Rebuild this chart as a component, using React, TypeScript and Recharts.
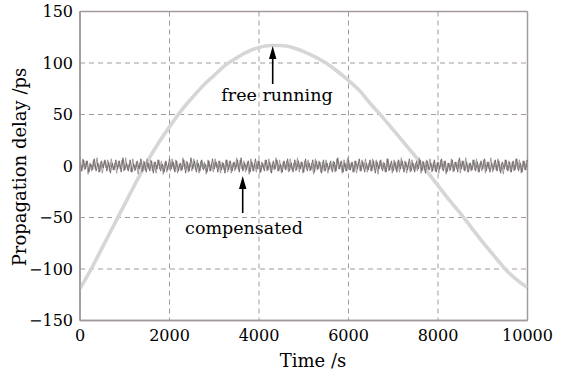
import React from "react";
import { LineChart, Line, XAxis, YAxis, CartesianGrid, ReferenceLine } from "recharts";

const FREE_TIME = [
  0, 250, 500, 750, 1000, 1250, 1500, 1750, 2000, 2250, 2500, 2750, 3000, 3250,
  3500, 3750, 4000, 4250, 4500, 4750, 5000, 5250, 5500, 5750, 6000, 6250, 6500,
  6750, 7000, 7250, 7500, 7750, 8000, 8250, 8500, 8750, 9000, 9250, 9500, 9750,
  10000,
];
const FREE_DELAY = [
  -119, -100, -79, -58, -37, -16, 4, 22, 38, 53, 66, 78, 88, 98, 105, 111, 115,
  117, 117, 115, 111, 106, 100, 92, 83, 73, 60, 48, 35, 22, 9, -5, -19, -33, -46,
  -60, -74, -87, -100, -110, -118,
];

// Compensated delay, two interleaved sample sets (every 40 s, offset by 20 s)
const COMP_STEP = 40;
const COMP_OFFSET_B = 20;
const COMP_DELAY_A = [
  4, -5, 6, -3, 5, -6, 2, -4, 7, -5, 3, -6, 5, -2, 6, -5, 4, -7, 3, -4,
  6, -3, 5, -6, 8, -4, 3, -5, 6, -6, 2, -4, 5, -3, 7, -5, 4, -6, 3, -5,
  5, -7, 4, -3, 6, -5, 2, -6, 5, -4, 7, -3, 4, -6, 5, -5, 3, -4, 6, -7,
  4, -5, 8, -3, 5, -6, 3, -5, 6, -4, 2, -6, 5, -5, 7, -3, 4, -6, 5, -4,
  3, -7, 6, -4, 5, -5, 4, -3, 6, -6, 8, -5, 3, -4, 5, -6, 4, -5, 7, -3,
  5, -6, 3, -5, 6, -4, 4, -7, 5, -3, 6, -5, 2, -6, 5, -4, 7, -5, 3, -6,
  6, -4, 5, -3, 4, -6, 7, -5, 3, -4, 6, -6, 5, -3, 4, -7, 6, -5, 3, -4,
  5, -6, 4, -5, 8, -3, 5, -6, 3, -5, 6, -4, 4, -6, 5, -3, 7, -5, 4, -6,
  3, -4, 6, -5, 5, -7, 4, -3, 6, -5, 3, -6, 7, -4, 5, -5, 4, -6, 6, -3,
  5, -6, 4, -4, 7, -5, 3, -6, 5, -3, 6, -5, 4, -7, 5, -4, 3, -5, 6, -6,
  4, -3, 7, -5, 5, -6, 3, -4, 6, -5, 4, -6, 8, -3, 5, -5, 4, -6, 3, -4,
  6, -5, 4, -6, 5, -3, 7, -5, 4, -6, 3, -4, 6, -5, 5, -7, 4, -3, 6, -5,
  4, -6, 5, -4, 7, -5, 3, -6, 5, -4, 6,
];
const COMP_DELAY_B = [
  -6, 7, -4, 5, -8, 3, -5, 6, -3, 8, -6, 4, -7, 5, -2, 6, -5, 7, -4, 3,
  -7, 5, -3, 6, -5, 8, -4, 2, -6, 7, -5, 4, -8, 3, -6, 5, -4, 7, -3, 6,
  -5, 4, -7, 6, -3, 5, -8, 4, -6, 3, -5, 7, -4, 6, -7, 2, -5, 8, -3, 5,
  -6, 3, -5, 7, -4, 6, -7, 5, -3, 4, -8, 6, -5, 3, -6, 7, -2, 5, -7, 4,
  -4, 6, -6, 5, -7, 3, -5, 8, -4, 6, -3, 5, -6, 4, -8, 7, -5, 3, -6, 5,
  -7, 4, -3, 6, -5, 7, -6, 3, -4, 8, -5, 6, -7, 4, -3, 5, -6, 7, -4, 3,
  -5, 8, -6, 4, -7, 5, -3, 6, -5, 3, -8, 7, -4, 5, -6, 4, -5, 6, -7, 3,
  -4, 5, -6, 7, -3, 4, -7, 6, -5, 8, -4, 3, -6, 5, -7, 4, -5, 6, -3, 7,
  -6, 3, -5, 7, -4, 6, -8, 5, -3, 4, -6, 7, -5, 3, -7, 6, -4, 5, -6, 8,
  -3, 5, -7, 4, -6, 6, -4, 3, -5, 8, -7, 5, -4, 6, -3, 7, -6, 4, -5, 3,
  -7, 6, -4, 5, -8, 3, -5, 7, -6, 4, -3, 6, -7, 5, -4, 8, -6, 3, -5, 6,
  -4, 7, -6, 3, -5, 6, -7, 4, -3, 8, -6, 5, -4, 7, -5, 3, -8, 6, -4, 5,
  -6, 4, -5, 7, -3, 6, -7, 5, -4, 6,
];

const X_TICKS = [0, 2000, 4000, 6000, 8000, 10000];
const Y_TICKS = [-150, -100, -50, 0, 50, 100, 150];
const X_DOMAIN = [0, 10000];
const Y_DOMAIN = [-150, 150];

const freeData = FREE_TIME.map((t, i) => ({ t, v: FREE_DELAY[i] }));
const compDataA = COMP_DELAY_A.map((v, i) => ({ t: i * COMP_STEP, v }));
const compDataB = COMP_DELAY_B.map((v, i) => ({ t: COMP_OFFSET_B + i * COMP_STEP, v }));

const FONT = "'DejaVu Serif', serif";
const GRID = "#a39b9b";
const fmt = (v: number) => (v < 0 ? "\u2212" + Math.abs(v) : String(v));

export default function App() {
  return (
    <div style={{ position: "absolute", left: 0, top: 0, width: 570, height: 375, background: "#fff" }}>
      <LineChart
        width={570}
        height={375}
        margin={{ top: 11.5, right: 42.5, bottom: 24.5, left: 10 }}
      >
        <CartesianGrid xAxisId="b" yAxisId="l" stroke={GRID} strokeDasharray="5 4" />
        <XAxis
          xAxisId="b"
          type="number"
          dataKey="t"
          domain={X_DOMAIN}
          ticks={X_TICKS}
          tickLine={false}
          tickSize={0}
          tickMargin={9}
          height={30}
          stroke={GRID}
          axisLine={{ stroke: GRID, strokeWidth: 1.5 }}
          tick={{ fill: "#000", fontSize: 16, fontFamily: FONT }}
          allowDataOverflow
        />
        <YAxis
          yAxisId="l"
          type="number"
          domain={Y_DOMAIN}
          ticks={Y_TICKS}
          tickLine={false}
          tickSize={0}
          tickMargin={7}
          width={70}
          tickFormatter={fmt}
          stroke={GRID}
          axisLine={{ stroke: GRID, strokeWidth: 1.5 }}
          tick={{ fill: "#000", fontSize: 16, fontFamily: FONT }}
          allowDataOverflow
        />
        <ReferenceLine xAxisId="b" yAxisId="l" x={X_DOMAIN[0]} stroke={GRID} strokeWidth={1.5} />
        <ReferenceLine xAxisId="b" yAxisId="l" x={X_DOMAIN[1]} stroke={GRID} strokeWidth={1.5} />
        <ReferenceLine xAxisId="b" yAxisId="l" y={Y_DOMAIN[0]} stroke={GRID} strokeWidth={1.5} />
        <ReferenceLine xAxisId="b" yAxisId="l" y={Y_DOMAIN[1]} stroke={GRID} strokeWidth={1.5} />
        <Line
          xAxisId="b"
          yAxisId="l"
          data={freeData}
          dataKey="v"
          type="monotone"
          stroke="#d6d6d6"
          strokeWidth={3.6}
          dot={false}
          isAnimationActive={false}
        />
        <Line
          xAxisId="b"
          yAxisId="l"
          data={compDataB}
          dataKey="v"
          type="linear"
          stroke="#a29c9c"
          strokeWidth={1}
          dot={false}
          isAnimationActive={false}
        />
        <Line
          xAxisId="b"
          yAxisId="l"
          data={compDataA}
          dataKey="v"
          type="linear"
          stroke="#6e6868"
          strokeWidth={0.9}
          dot={false}
          isAnimationActive={false}
        />
      </LineChart>
      <svg width={570} height={375} style={{ position: "absolute", left: 0, top: 0, pointerEvents: "none" }}>
        <text x={26} y={167} transform="rotate(-90 26 167)" textAnchor="middle" fontFamily={FONT} fontSize={18} fill="#000">
          Propagation delay /ps
        </text>
        <text x={313} y={367} textAnchor="middle" fontFamily={FONT} fontSize={18} fill="#000">
          Time /s
        </text>
        <line x1={272.7} y1={84} x2={272.7} y2={56} stroke="#000" strokeWidth={1.6} />
        <polygon points="272.7,46 269,59 276.4,59" fill="#000" />
        <text x={277} y={101} textAnchor="middle" fontFamily={FONT} fontSize={17.5} fill="#000">
          free running
        </text>
        <line x1={242.7} y1={213} x2={242.7} y2={186} stroke="#000" strokeWidth={1.6} />
        <polygon points="242.7,176 239,189 246.4,189" fill="#000" />
        <text x={244} y={234} textAnchor="middle" fontFamily={FONT} fontSize={17.5} fill="#000">
          compensated
        </text>
      </svg>
    </div>
  );
}
